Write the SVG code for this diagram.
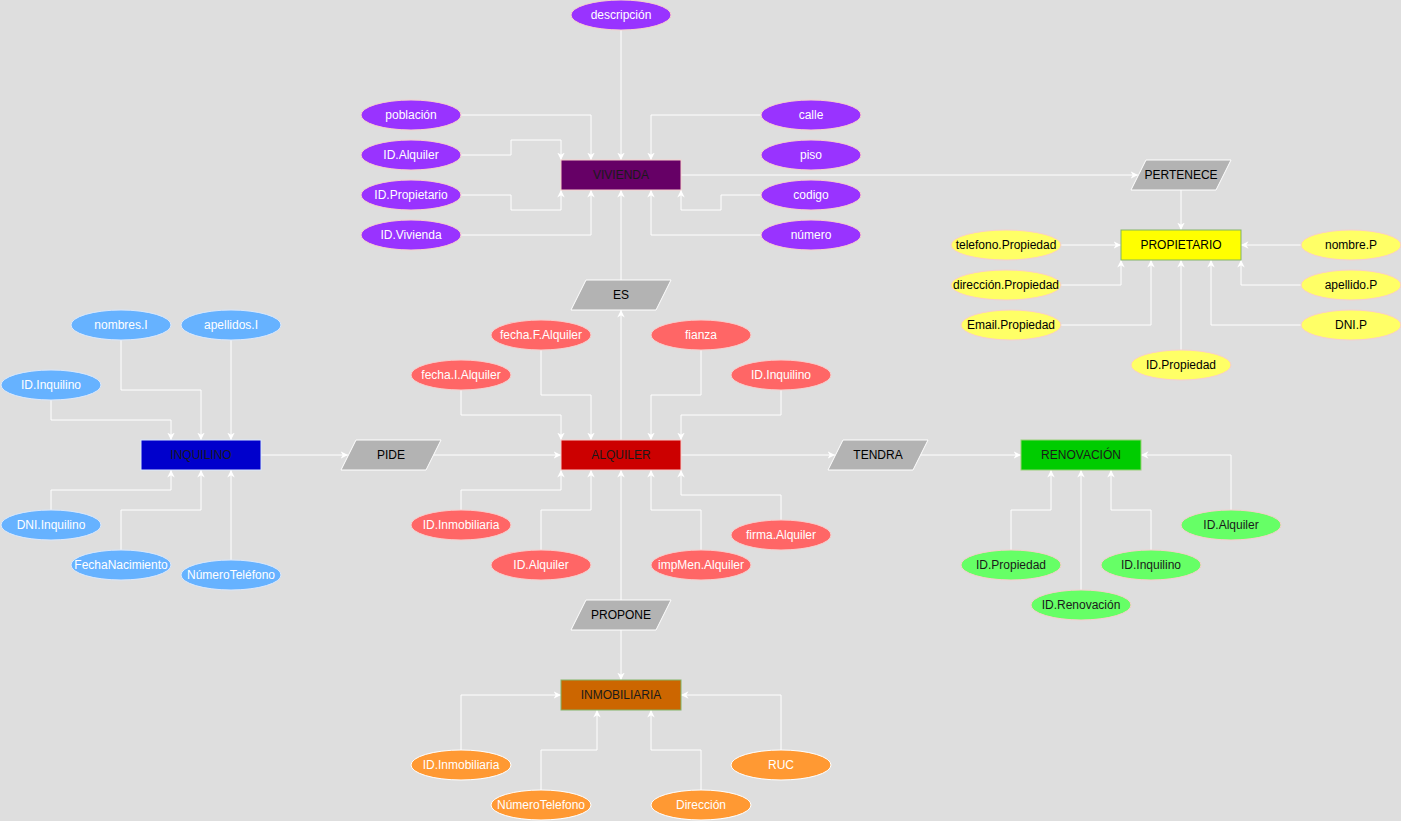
<svg xmlns="http://www.w3.org/2000/svg" width="1401" height="821" viewBox="0 0 1401 821">
<style>
text{font-family:"Liberation Sans",Arial,Helvetica,sans-serif;font-size:12px;text-anchor:middle;dominant-baseline:central}
.w{fill:#FFFFFF}
.k{fill:#000000}
.e{fill:#1A1A1A}
.c{fill:none;stroke:#FFFFFF;stroke-width:1}
.a{marker-end:url(#arr)}
.rel{fill:#B3B3B3;stroke:#FFFFFF;stroke-width:1}
.pu{fill:#9933FF;stroke:#F8CECC}
.ye{fill:#FFFF66;stroke:#F8CECC}
.bl{fill:#66B2FF;stroke:#DAE8FC}
.re{fill:#FF6666;stroke:#F8CECC}
.gr{fill:#66FF66;stroke:#F8CECC}
.or{fill:#FF9933;stroke:#FFFFFF}
</style>
<defs>
<marker id="arr" viewBox="0 0 10 10" refX="10" refY="5" markerWidth="7.5" markerHeight="7.5" markerUnits="userSpaceOnUse" orient="auto">
<path d="M0,0 L10,5 L0,10 L3,5 z" fill="#FFFFFF"/>
</marker>
</defs>
<rect width="1401" height="821" fill="#DEDEDE"/>
<g id="connectors">
<path class="c a" d="M460,115 H591 V160"/>
<path class="c a" d="M460,155 H511 V140 H561 V160"/>
<path class="c a" d="M621,30 V160"/>
<path class="c a" d="M761,115 H651 V160"/>
<path class="c a" d="M460,195 H511 V210 H561 V190"/>
<path class="c a" d="M460,235 H591 V190"/>
<path class="c a" d="M761,195 H721 V210 H681 V190"/>
<path class="c a" d="M761,235 H651 V190"/>
<path class="c a" d="M621,280 V190"/>
<path class="c a" d="M681,175 H1138"/>
<path class="c a" d="M1181,190 V230"/>
<path class="c a" d="M1061,245 H1121"/>
<path class="c a" d="M1061,285 H1121 V260"/>
<path class="c a" d="M1061,325 H1151 V260"/>
<path class="c a" d="M1181,350 V260"/>
<path class="c a" d="M1301,325 H1211 V260"/>
<path class="c a" d="M1301,285 H1241 V260"/>
<path class="c a" d="M1301,245 H1241"/>
<path class="c a" d="M51,400 V420 H171 V440"/>
<path class="c a" d="M121,340 V390 H201 V440"/>
<path class="c a" d="M231,340 V440"/>
<path class="c a" d="M51,510 V490 H171 V470"/>
<path class="c a" d="M121,550 V510 H201 V470"/>
<path class="c a" d="M231,560 V470"/>
<path class="c a" d="M261,455 H348"/>
<path class="c a" d="M433,455 H561"/>
<path class="c a" d="M621,440 V310"/>
<path class="c a" d="M461,390 V415 H561 V440"/>
<path class="c a" d="M541,350 V395 H591 V440"/>
<path class="c a" d="M701,350 V395 H651 V440"/>
<path class="c a" d="M781,390 V415 H681 V440"/>
<path class="c a" d="M461,510 V490 H561 V470"/>
<path class="c a" d="M541,550 V510 H591 V470"/>
<path class="c a" d="M701,550 V510 H651 V470"/>
<path class="c a" d="M781,520 V495 H681 V470"/>
<path class="c a" d="M621,600 V470"/>
<path class="c a" d="M681,455 H835"/>
<path class="c a" d="M920,455 H1021"/>
<path class="c a" d="M1011,550 V510 H1051 V470"/>
<path class="c a" d="M1081,590 V470"/>
<path class="c a" d="M1151,550 V510 H1111 V470"/>
<path class="c a" d="M1231,510 V455 H1141"/>
<path class="c a" d="M621,630 V680"/>
<path class="c a" d="M461,750 V695 H561"/>
<path class="c a" d="M541,790 V750 H597 V710"/>
<path class="c a" d="M701,790 V750 H651 V710"/>
<path class="c a" d="M781,750 V695 H681"/>
</g>
<g id="vivienda">
<rect x="561" y="160" width="120" height="30" fill="#660066" stroke="#F8CECC"/>
<text class="e" x="621" y="175">VIVIENDA</text>
</g>
<g id="vivienda-attrs">
<ellipse class="pu" cx="621" cy="15" rx="50" ry="15"/><text class="w" x="621" y="15">descripción</text>
<ellipse class="pu" cx="411" cy="115" rx="50" ry="15"/><text class="w" x="411" y="115">población</text>
<ellipse class="pu" cx="411" cy="155" rx="50" ry="15"/><text class="w" x="411" y="155">ID.Alquiler</text>
<ellipse class="pu" cx="411" cy="195" rx="50" ry="15"/><text class="w" x="411" y="195">ID.Propietario</text>
<ellipse class="pu" cx="411" cy="235" rx="50" ry="15"/><text class="w" x="411" y="235">ID.Vivienda</text>
<ellipse class="pu" cx="811" cy="115" rx="50" ry="15"/><text class="w" x="811" y="115">calle</text>
<ellipse class="pu" cx="811" cy="155" rx="50" ry="15"/><text class="w" x="811" y="155">piso</text>
<ellipse class="pu" cx="811" cy="195" rx="50" ry="15"/><text class="w" x="811" y="195">codigo</text>
<ellipse class="pu" cx="811" cy="235" rx="50" ry="15"/><text class="w" x="811" y="235">número</text>
</g>
<g id="pertenece">
<polygon class="rel" points="1146,160 1231,160 1216,190 1131,190"/>
<text class="k" x="1181" y="175">PERTENECE</text>
</g>
<g id="propietario">
<rect x="1121" y="230" width="120" height="30" fill="#FFFF00" stroke="#82B366"/>
<text class="k" x="1181" y="245">PROPIETARIO</text>
</g>
<g id="propietario-attrs">
<ellipse class="ye" cx="1006" cy="245" rx="55" ry="15"/><text class="k" x="1006" y="245">telefono.Propiedad</text>
<ellipse class="ye" cx="1006" cy="285" rx="55" ry="15"/><text class="k" x="1006" y="285">dirección.Propiedad</text>
<ellipse class="ye" cx="1011" cy="325" rx="50" ry="15"/><text class="k" x="1011" y="325">Email.Propiedad</text>
<ellipse class="ye" cx="1181" cy="365" rx="50" ry="15"/><text class="k" x="1181" y="365">ID.Propiedad</text>
<ellipse class="ye" cx="1351" cy="245" rx="50" ry="15"/><text class="k" x="1351" y="245">nombre.P</text>
<ellipse class="ye" cx="1351" cy="285" rx="50" ry="15"/><text class="k" x="1351" y="285">apellido.P</text>
<ellipse class="ye" cx="1351" cy="325" rx="50" ry="15"/><text class="k" x="1351" y="325">DNI.P</text>
</g>
<g id="es">
<polygon class="rel" points="586,280 671,280 656,310 571,310"/>
<text class="k" x="621" y="295">ES</text>
</g>
<g id="inquilino">
<rect x="141" y="440" width="120" height="30" fill="#0000CC" stroke="#DAE8FC"/>
<text class="e" x="201" y="455">INQUILINO</text>
</g>
<g id="inquilino-attrs">
<ellipse class="bl" cx="121" cy="325" rx="50" ry="15"/><text class="w" x="121" y="325">nombres.I</text>
<ellipse class="bl" cx="231" cy="325" rx="50" ry="15"/><text class="w" x="231" y="325">apellidos.I</text>
<ellipse class="bl" cx="51" cy="385" rx="50" ry="15"/><text class="w" x="51" y="385">ID.Inquilino</text>
<ellipse class="bl" cx="51" cy="525" rx="50" ry="15"/><text class="w" x="51" y="525">DNI.Inquilino</text>
<ellipse class="bl" cx="121" cy="565" rx="50" ry="15"/><text class="w" x="121" y="565">FechaNacimiento</text>
<ellipse class="bl" cx="231" cy="575" rx="50" ry="15"/><text class="w" x="231" y="575">NúmeroTeléfono</text>
</g>
<g id="pide">
<polygon class="rel" points="356,440 441,440 426,470 341,470"/>
<text class="k" x="391" y="455">PIDE</text>
</g>
<g id="alquiler">
<rect x="561" y="440" width="120" height="30" fill="#CC0000" stroke="#F8CECC"/>
<text class="e" x="621" y="455">ALQUILER</text>
</g>
<g id="alquiler-attrs">
<ellipse class="re" cx="541" cy="335" rx="50" ry="15"/><text class="w" x="541" y="335">fecha.F.Alquiler</text>
<ellipse class="re" cx="701" cy="335" rx="50" ry="15"/><text class="w" x="701" y="335">fianza</text>
<ellipse class="re" cx="461" cy="375" rx="50" ry="15"/><text class="w" x="461" y="375">fecha.I.Alquiler</text>
<ellipse class="re" cx="781" cy="375" rx="50" ry="15"/><text class="w" x="781" y="375">ID.Inquilino</text>
<ellipse class="re" cx="461" cy="525" rx="50" ry="15"/><text class="w" x="461" y="525">ID.Inmobiliaria</text>
<ellipse class="re" cx="541" cy="565" rx="50" ry="15" stroke="#FFFFFF"/><text class="w" x="541" y="565">ID.Alquiler</text>
<ellipse class="re" cx="701" cy="565" rx="50" ry="15"/><text class="w" x="701" y="565">impMen.Alquiler</text>
<ellipse class="re" cx="781" cy="535" rx="50" ry="15"/><text class="w" x="781" y="535">firma.Alquiler</text>
</g>
<g id="tendra">
<polygon class="rel" points="843,440 928,440 913,470 828,470"/>
<text class="k" x="878" y="455">TENDRA</text>
</g>
<g id="renovacion">
<rect x="1021" y="440" width="120" height="30" fill="#00CC00" stroke="#97D077"/>
<text class="e" x="1081" y="455">RENOVACIÓN</text>
</g>
<g id="renovacion-attrs">
<ellipse class="gr" cx="1011" cy="565" rx="50" ry="15"/><text class="e" x="1011" y="565">ID.Propiedad</text>
<ellipse class="gr" cx="1081" cy="605" rx="50" ry="15"/><text class="e" x="1081" y="605">ID.Renovación</text>
<ellipse class="gr" cx="1151" cy="565" rx="50" ry="15"/><text class="e" x="1151" y="565">ID.Inquilino</text>
<ellipse class="gr" cx="1231" cy="525" rx="50" ry="15"/><text class="e" x="1231" y="525">ID.Alquiler</text>
</g>
<g id="propone">
<polygon class="rel" points="586,600 671,600 656,630 571,630"/>
<text class="k" x="621" y="615">PROPONE</text>
</g>
<g id="inmobiliaria">
<rect x="561" y="680" width="120" height="30" fill="#CC6600" stroke="#82B366"/>
<text class="e" x="621" y="695">INMOBILIARIA</text>
</g>
<g id="inmobiliaria-attrs">
<ellipse class="or" cx="461" cy="765" rx="50" ry="15"/><text class="w" x="461" y="765">ID.Inmobiliaria</text>
<ellipse class="or" cx="541" cy="805" rx="50" ry="15"/><text class="w" x="541" y="805">NúmeroTelefono</text>
<ellipse class="or" cx="701" cy="805" rx="50" ry="15"/><text class="w" x="701" y="805">Dirección</text>
<ellipse class="or" cx="781" cy="765" rx="50" ry="15"/><text class="w" x="781" y="765">RUC</text>
</g>
</svg>
